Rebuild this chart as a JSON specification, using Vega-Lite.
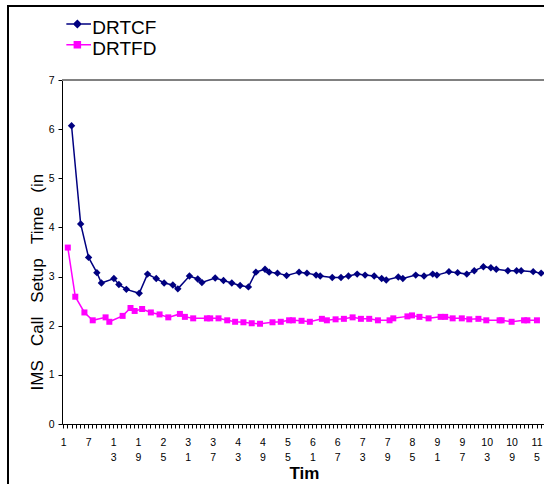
{
  "$schema": "https://vega.github.io/schema/vega-lite/v6.json",
  "width": 482,
  "height": 344,
  "autosize": "none",
  "padding": {"left": 62, "top": 80, "right": 0, "bottom": 60},
  "background": "white",
  "config": {"view": {"stroke": null}, "font": "Liberation Sans"},
  "datasets": {
    "series": [
      {"series":"DRTCF","t":3.0,"v":6.07},{"series":"DRTCF","t":5.2,"v":4.07},{"series":"DRTCF","t":7.1,"v":3.39},{"series":"DRTCF","t":9.1,"v":3.08},{"series":"DRTCF","t":10.2,"v":2.87},{"series":"DRTCF","t":13.2,"v":2.96},{"series":"DRTCF","t":14.4,"v":2.84},{"series":"DRTCF","t":16.2,"v":2.74},{"series":"DRTCF","t":19.3,"v":2.66},{"series":"DRTCF","t":21.3,"v":3.05},{"series":"DRTCF","t":23.4,"v":2.96},{"series":"DRTCF","t":25.3,"v":2.87},{"series":"DRTCF","t":27.4,"v":2.83},{"series":"DRTCF","t":28.6,"v":2.75},{"series":"DRTCF","t":31.4,"v":3.01},{"series":"DRTCF","t":33.4,"v":2.95},{"series":"DRTCF","t":34.4,"v":2.88},{"series":"DRTCF","t":37.6,"v":2.97},{"series":"DRTCF","t":39.6,"v":2.92},{"series":"DRTCF","t":41.6,"v":2.87},{"series":"DRTCF","t":43.6,"v":2.82},{"series":"DRTCF","t":45.6,"v":2.79},{"series":"DRTCF","t":47.4,"v":3.09},{"series":"DRTCF","t":49.6,"v":3.15},{"series":"DRTCF","t":50.6,"v":3.09},{"series":"DRTCF","t":52.6,"v":3.07},{"series":"DRTCF","t":54.8,"v":3.02},{"series":"DRTCF","t":57.8,"v":3.09},{"series":"DRTCF","t":59.7,"v":3.07},{"series":"DRTCF","t":61.9,"v":3.03},{"series":"DRTCF","t":62.9,"v":3.01},{"series":"DRTCF","t":65.8,"v":2.98},{"series":"DRTCF","t":67.9,"v":2.98},{"series":"DRTCF","t":69.7,"v":3.01},{"series":"DRTCF","t":71.8,"v":3.05},{"series":"DRTCF","t":73.7,"v":3.03},{"series":"DRTCF","t":75.9,"v":3.01},{"series":"DRTCF","t":77.7,"v":2.96},{"series":"DRTCF","t":78.8,"v":2.93},{"series":"DRTCF","t":81.7,"v":2.99},{"series":"DRTCF","t":82.8,"v":2.96},{"series":"DRTCF","t":85.9,"v":3.03},{"series":"DRTCF","t":87.9,"v":3.01},{"series":"DRTCF","t":90.0,"v":3.05},{"series":"DRTCF","t":91.0,"v":3.03},{"series":"DRTCF","t":93.9,"v":3.10},{"series":"DRTCF","t":96.0,"v":3.08},{"series":"DRTCF","t":98.2,"v":3.05},{"series":"DRTCF","t":100.0,"v":3.12},{"series":"DRTCF","t":102.2,"v":3.20},{"series":"DRTCF","t":104.0,"v":3.18},{"series":"DRTCF","t":105.3,"v":3.15},{"series":"DRTCF","t":108.1,"v":3.12},{"series":"DRTCF","t":110.2,"v":3.12},{"series":"DRTCF","t":111.3,"v":3.12},{"series":"DRTCF","t":114.2,"v":3.10},{"series":"DRTCF","t":116.1,"v":3.07},
      {"series":"DRTFD","t":2.1,"v":3.59},{"series":"DRTFD","t":3.9,"v":2.59},{"series":"DRTFD","t":6.1,"v":2.27},{"series":"DRTFD","t":8.1,"v":2.11},{"series":"DRTFD","t":11.2,"v":2.17},{"series":"DRTFD","t":12.1,"v":2.08},{"series":"DRTFD","t":15.3,"v":2.20},{"series":"DRTFD","t":17.2,"v":2.36},{"series":"DRTFD","t":18.2,"v":2.30},{"series":"DRTFD","t":20.0,"v":2.34},{"series":"DRTFD","t":22.1,"v":2.27},{"series":"DRTFD","t":24.2,"v":2.23},{"series":"DRTFD","t":26.3,"v":2.17},{"series":"DRTFD","t":29.1,"v":2.24},{"series":"DRTFD","t":30.3,"v":2.18},{"series":"DRTFD","t":32.3,"v":2.15},{"series":"DRTFD","t":35.6,"v":2.15},{"series":"DRTFD","t":36.4,"v":2.15},{"series":"DRTFD","t":38.4,"v":2.15},{"series":"DRTFD","t":40.5,"v":2.11},{"series":"DRTFD","t":42.4,"v":2.08},{"series":"DRTFD","t":44.4,"v":2.07},{"series":"DRTFD","t":46.4,"v":2.05},{"series":"DRTFD","t":48.4,"v":2.04},{"series":"DRTFD","t":51.4,"v":2.07},{"series":"DRTFD","t":53.4,"v":2.08},{"series":"DRTFD","t":55.4,"v":2.11},{"series":"DRTFD","t":56.3,"v":2.11},{"series":"DRTFD","t":58.4,"v":2.10},{"series":"DRTFD","t":60.4,"v":2.08},{"series":"DRTFD","t":63.3,"v":2.14},{"series":"DRTFD","t":64.5,"v":2.11},{"series":"DRTFD","t":66.6,"v":2.13},{"series":"DRTFD","t":68.6,"v":2.14},{"series":"DRTFD","t":70.7,"v":2.17},{"series":"DRTFD","t":72.7,"v":2.14},{"series":"DRTFD","t":74.7,"v":2.14},{"series":"DRTFD","t":76.8,"v":2.11},{"series":"DRTFD","t":79.6,"v":2.11},{"series":"DRTFD","t":80.5,"v":2.15},{"series":"DRTFD","t":83.9,"v":2.19},{"series":"DRTFD","t":85.0,"v":2.21},{"series":"DRTFD","t":86.8,"v":2.18},{"series":"DRTFD","t":89.0,"v":2.15},{"series":"DRTFD","t":91.9,"v":2.18},{"series":"DRTFD","t":93.0,"v":2.18},{"series":"DRTFD","t":94.8,"v":2.15},{"series":"DRTFD","t":97.0,"v":2.15},{"series":"DRTFD","t":98.8,"v":2.13},{"series":"DRTFD","t":101.0,"v":2.14},{"series":"DRTFD","t":102.9,"v":2.11},{"series":"DRTFD","t":106.1,"v":2.11},{"series":"DRTFD","t":106.6,"v":2.11},{"series":"DRTFD","t":109.0,"v":2.08},{"series":"DRTFD","t":112.0,"v":2.11},{"series":"DRTFD","t":112.8,"v":2.11},{"series":"DRTFD","t":115.1,"v":2.11}
    ]
  },
  "data": {"name": "series"},
  "layer": [
    {
      "mark": {"type": "rule", "color": "#808080", "strokeWidth": 1},
      "encoding": {
        "y": {"datum": 7, "type": "quantitative", "scale": {"domain": [0, 7], "nice": false, "zero": false}}
      }
    },
    {
      "mark": {"type": "rule", "color": "black", "strokeWidth": 1.5},
      "encoding": {
        "x": {"datum": -12.31, "type": "quantitative", "scale": {"domain": [0.7, 116.8], "nice": false, "zero": false}},
        "y": {"datum": 8.51, "type": "quantitative", "scale": {"domain": [0, 7], "nice": false, "zero": false}},
        "y2": {"datum": -3}
      }
    },
    {
      "mark": {"type": "rule", "color": "black", "strokeWidth": 1.5},
      "encoding": {
        "x": {"datum": -12.31, "type": "quantitative", "scale": {"domain": [0.7, 116.8], "nice": false, "zero": false}},
        "x2": {"datum": 140},
        "y": {"datum": 8.51, "type": "quantitative", "scale": {"domain": [0, 7], "nice": false, "zero": false}}
      }
    },
    {
      "mark": {"type": "line", "strokeWidth": 1.5},
      "encoding": {
        "x": {
          "field": "t", "type": "quantitative",
          "scale": {"domain": [0.7, 116.8], "nice": false, "zero": false},
          "axis": {
            "values": [1,2,3,4,5,6,7,8,9,10,11,12,13,14,15,16,17,18,19,20,21,22,23,24,25,26,27,28,29,30,31,32,33,34,35,36,37,38,39,40,41,42,43,44,45,46,47,48,49,50,51,52,53,54,55,56,57,58,59,60,61,62,63,64,65,66,67,68,69,70,71,72,73,74,75,76,77,78,79,80,81,82,83,84,85,86,87,88,89,90,91,92,93,94,95,96,97,98,99,100,101,102,103,104,105,106,107,108,109,110,111,112,113,114,115,116],
            "tickCount": 500,
            "format": "d",
            "labelExpr": "(datum.value - 1) % 6 == 0 ? (datum.value < 10 ? datum.label : (datum.value < 100 ? [substring(datum.label, 0, 1), substring(datum.label, 1)] : [substring(datum.label, 0, 2), substring(datum.label, 2)])) : ''",
            "labelOverlap": false,
            "labelFlush": false,
            "labelBound": false,
            "labelFont": "Liberation Sans",
            "labelFontSize": 10.5,
            "labelLineHeight": 15,
            "labelPadding": 9,
            "labelColor": "black",
            "tickSize": 4,
            "tickColor": "black",
            "domainColor": "black",
            "grid": false,
            "title": "Tim",
            "titleFont": "Liberation Sans",
            "titleFontSize": 17,
            "titleFontWeight": "bold",
            "titleColor": "black",
            "titleX": 242,
            "titleY": 54,
            "titleAlign": "center",
            "titleBaseline": "alphabetic"
          }
        },
        "y": {
          "field": "v", "type": "quantitative",
          "scale": {"domain": [0, 7], "nice": false, "zero": false},
          "axis": {
            "values": [0,1,2,3,4,5,6,7],
            "labelFont": "Liberation Sans",
            "labelFontSize": 10.5,
            "labelPadding": 4,
            "labelColor": "black",
            "tickSize": 4,
            "tickColor": "black",
            "domainColor": "black",
            "grid": false,
            "title": "IMS\u00a0\u00a0\u00a0Call\u00a0\u00a0\u00a0Setup\u00a0\u00a0\u00a0Time\u00a0\u00a0\u00a0(in",
            "titleFont": "Liberation Sans",
            "titleFontSize": 17,
            "titleFontWeight": "normal",
            "titleColor": "black",
            "titleAngle": -90,
            "titleX": -25,
            "titleY": 310,
            "titleAlign": "left",
            "titleBaseline": "middle"
          }
        },
        "color": {
          "field": "series", "type": "nominal",
          "scale": {"domain": ["DRTCF", "DRTFD"], "range": ["#000080", "#FF00FF"]},
          "legend": {
            "orient": "none",
            "legendX": 4.35,
            "legendY": -61.7,
            "title": null,
            "padding": 0,
            "labelFont": "Liberation Sans",
            "labelFontSize": 19,
            "labelColor": "black",
            "labelOffset": 4,
            "rowPadding": 0.7,
            "clipHeight": 20,
            "symbolSize": 400,
            "symbolStrokeWidth": 1.5,
            "symbolType": "M-1.365,-0.43H1.365",
            "encode": {
              "symbols": {
                "update": {
                  "shape": {"signal": "datum.value === 'DRTCF' ? 'M-1.365,-0.43H1.365M0,-0.78L0.35,-0.43L0,-0.08L-0.35,-0.43Z' : 'M-1.365,-0.43H1.365M-0.3,-0.73H0.3V-0.13H-0.3Z'"},
                  "fill": {"signal": "datum.value === 'DRTCF' ? '#000080' : '#FF00FF'"},
                  "stroke": {"signal": "datum.value === 'DRTCF' ? '#000080' : '#FF00FF'"},
                  "opacity": {"value": 1}
                }
              }
            }
          }
        }
      }
    },
    {
      "transform": [{"filter": "datum.series === 'DRTCF'"}],
      "mark": {"type": "point", "filled": true, "size": 55, "opacity": 1, "shape": "diamond", "color": "#000080"},
      "encoding": {
        "x": {"field": "t", "type": "quantitative", "scale": {"domain": [0.7, 116.8], "nice": false, "zero": false}},
        "y": {"field": "v", "type": "quantitative", "scale": {"domain": [0, 7], "nice": false, "zero": false}}
      }
    },
    {
      "transform": [{"filter": "datum.series === 'DRTFD'"}],
      "mark": {"type": "point", "filled": true, "size": 36, "opacity": 1, "shape": "square", "color": "#FF00FF"},
      "encoding": {
        "x": {"field": "t", "type": "quantitative", "scale": {"domain": [0.7, 116.8], "nice": false, "zero": false}},
        "y": {"field": "v", "type": "quantitative", "scale": {"domain": [0, 7], "nice": false, "zero": false}}
      }
    }
  ]
}
